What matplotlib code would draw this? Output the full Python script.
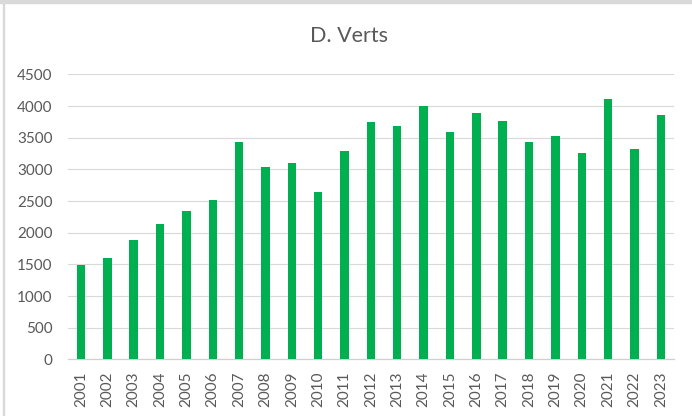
import matplotlib.pyplot as plt
from matplotlib.patches import Rectangle

years = [str(y) for y in range(2001, 2024)]
verts = [1490, 1605, 1885, 2135, 2340, 2510, 3430, 3035, 3095, 2640, 3285,
         3745, 3690, 4000, 3590, 3885, 3765, 3430, 3525, 3255, 4110, 3330, 3855]

plt.rcParams['font.family'] = ['Lato', 'DejaVu Sans']
grey = '#595959'

fig = plt.figure(figsize=(6.92, 4.16), dpi=100)
ax = fig.add_axes([0.098, 0.136, 0.876, 0.685])

x = range(len(years))
ax.bar(x, verts, width=0.32, color='#00B050', zorder=3)

ax.set_xlim(-0.5, len(years) - 0.5)
ax.set_ylim(0, 4500)
ax.set_yticks(range(0, 4501, 500))
ax.set_xticks(list(x))
ax.set_xticklabels(years, rotation=90)
ax.tick_params(axis='both', length=0, labelsize=11, labelcolor=grey)
ax.tick_params(axis='x', pad=8.5)
ax.tick_params(axis='y', pad=11)
ax.grid(axis='y', color='#d9d9d9', linewidth=0.8, zorder=0)
for s in ['top', 'right', 'left']:
    ax.spines[s].set_visible(False)
ax.spines['bottom'].set_color('#d0d0d0')
ax.spines['bottom'].set_linewidth(0.9)

fig.text(0.504, 0.913, 'D. Verts', ha='center', va='center', fontsize=15.5, color=grey)

# chart frame (top and left edge visible)
fig.patches.append(Rectangle((0, 1 - 3 / 416), 1, 3 / 416, transform=fig.transFigure,
                             color='#d9d9d9', zorder=0))
fig.patches.append(Rectangle((3 / 692, 0), 1 / 692, 1, transform=fig.transFigure,
                             color='#d9d9d9', zorder=0))

fig.savefig('out.png', dpi=100)
